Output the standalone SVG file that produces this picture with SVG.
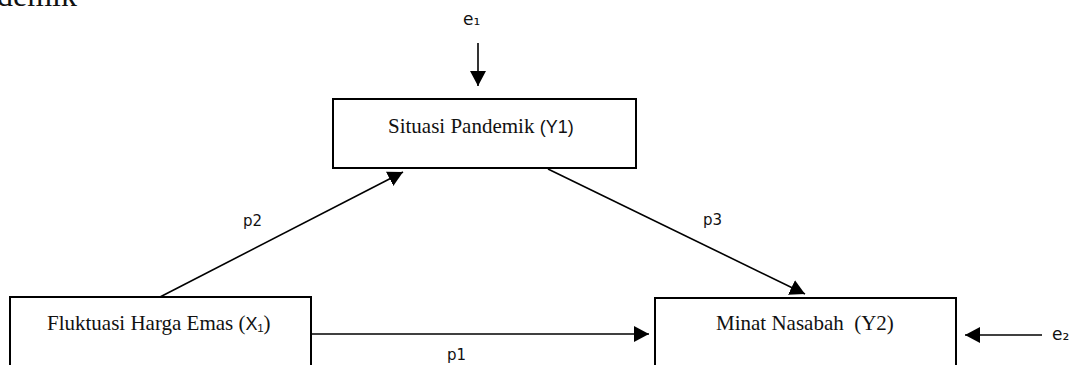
<svg xmlns="http://www.w3.org/2000/svg" width="1075" height="365" viewBox="0 0 1075 365">
<style>
.box{fill:#fff;stroke:#000;stroke-width:2}
.ln{stroke:#000;stroke-width:1.6;fill:none;marker-end:url(#ah)}
.serif{font-family:"Liberation Serif","Times New Roman",serif;font-size:21px;fill:#111}
.sans{font-family:"DejaVu Sans","Liberation Sans",sans-serif;font-size:15px;fill:#111}
.err{font-family:"DejaVu Sans","Liberation Sans",sans-serif;font-size:17px;fill:#111}
.cal{font-family:"Liberation Sans",Arial,sans-serif;font-size:18px}
</style>
<defs>
<marker id="ah" markerUnits="userSpaceOnUse" markerWidth="16" markerHeight="16" refX="15" refY="8" orient="auto" viewBox="0 0 16 16">
<path d="M0,0 L15,8 L0,16 Z" fill="#000"/>
</marker>
</defs>
<rect width="1075" height="365" fill="#fff"/>
<text class="serif" x="-3" y="6" style="font-size:32px">demik</text>
<g id="node-y1">
<rect class="box" x="333" y="99" width="303" height="69"/>
<text class="serif" x="388" y="133">Situasi Pandemik <tspan class="cal">(Y1)</tspan></text>
</g>
<g id="node-x1">
<rect class="box" x="10" y="297" width="301" height="85"/>
<text class="serif" x="47" y="330">Fluktuasi Harga Emas (<tspan class="cal">X₁</tspan>)</text>
</g>
<g id="node-y2">
<rect class="box" x="655" y="298" width="301" height="85"/>
<text class="serif" x="716" y="330" xml:space="preserve">Minat Nasabah  (Y2)</text>
</g>
<g id="connectors">
<line class="ln" x1="478" y1="43" x2="478" y2="86"/>
<line class="ln" x1="160" y1="297" x2="403" y2="172"/>
<line class="ln" x1="548" y1="169" x2="805" y2="294"/>
<line class="ln" x1="311" y1="334" x2="649" y2="334"/>
<line class="ln" x1="1042" y1="335" x2="965" y2="335"/>
</g>
<g id="labels">
<text class="err" x="463" y="25">e₁</text>
<text class="err" x="1052" y="340">e₂</text>
<text class="sans" x="243" y="226">p2</text>
<text class="sans" x="703" y="225">p3</text>
<text class="sans" x="447" y="360">p1</text>
</g>
</svg>
